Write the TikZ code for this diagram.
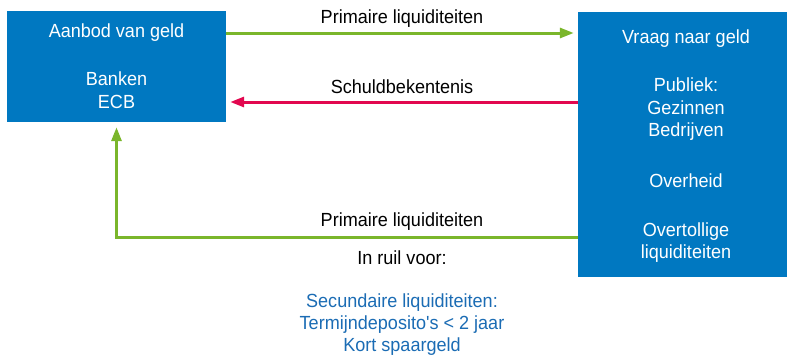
\documentclass[tikz,border=0pt]{standalone}
\usepackage{fontspec}
\setmainfont{Liberation Sans}[FakeStretch=0.95]
\newfontfamily\plainfont{Liberation Sans}[FakeStretch=0.95,Ligatures=TeXOff]
\usetikzlibrary{arrows.meta}
\definecolor{boxblue}{HTML}{0078C1}
\definecolor{lgreen}{HTML}{7AB62B}
\definecolor{lred}{HTML}{E2074F}
\definecolor{tblue}{HTML}{1B6CB4}
\tikzset{
  panel/.style={fill=boxblue, draw=none, inner sep=0pt},
  wtext/.style={text=white, anchor=base, inner sep=0pt, font=\fontsize{19}{22}\selectfont},
  ktext/.style={text=black, anchor=base, inner sep=0pt, font=\fontsize{19}{22}\selectfont},
  btext/.style={text=tblue, anchor=base, inner sep=0pt, font=\fontsize{19}{22}\selectfont},
  flow/.style={line width=3pt, -{Triangle[length=14pt,width=10pt]}},
}
\begin{document}
\begin{tikzpicture}[x=1pt,y=-1pt]
\useasboundingbox (0,0) rectangle (787,359);
% boxes
\node[panel, minimum width=219pt, minimum height=111pt] (lbox) at (116.5,66.5) {};
\node[panel, minimum width=209pt, minimum height=265pt] (rbox) at (682.5,144.5) {};
% left box text
\node[wtext] (l1) at (116.5,37) {Aanbod van geld};
\node[wtext] (l2) at (116.5,85) {Banken};
\node[wtext] (l3) at (116.5,108) {ECB};
% right box text
\node[wtext] (r1) at (686,43) {Vraag naar geld};
\node[wtext] (r2) at (686,91) {Publiek:};
\node[wtext] (r3) at (686,114) {Gezinnen};
\node[wtext] (r4) at (686,136) {Bedrijven};
\node[wtext] (r5) at (686,187) {Overheid};
\node[wtext] (r6) at (686,236) {Overtollige};
\node[wtext] (r7) at (686,258) {liquiditeiten};
% labels
\node[ktext] (t1) at (402,23) {Primaire liquiditeiten};
\node[ktext] (t2) at (402,93) {Schuldbekentenis};
\node[ktext] (t3) at (402,226) {Primaire liquiditeiten};
\node[ktext] (t4) at (402,264) {In ruil voor:};
\node[btext] (b1) at (402,307) {Secundaire liquiditeiten:};
\node[btext] (b2) at (402,329) {Termijndeposito{\plainfont'}s < 2 jaar};
\node[btext] (b3) at (402,351) {Kort spaargeld};
% connectors
\draw[flow, lgreen, shorten >=4pt] (lbox.east |- 0,33) -- (rbox.west |- 0,33);
\draw[flow, lred, shorten >=4pt] (rbox.west |- 0,102) -- (lbox.east |- 0,102);
\draw[flow, lgreen, shorten >=5pt] (rbox.west |- 0,237) -| (lbox.south);
\end{tikzpicture}
\end{document}
